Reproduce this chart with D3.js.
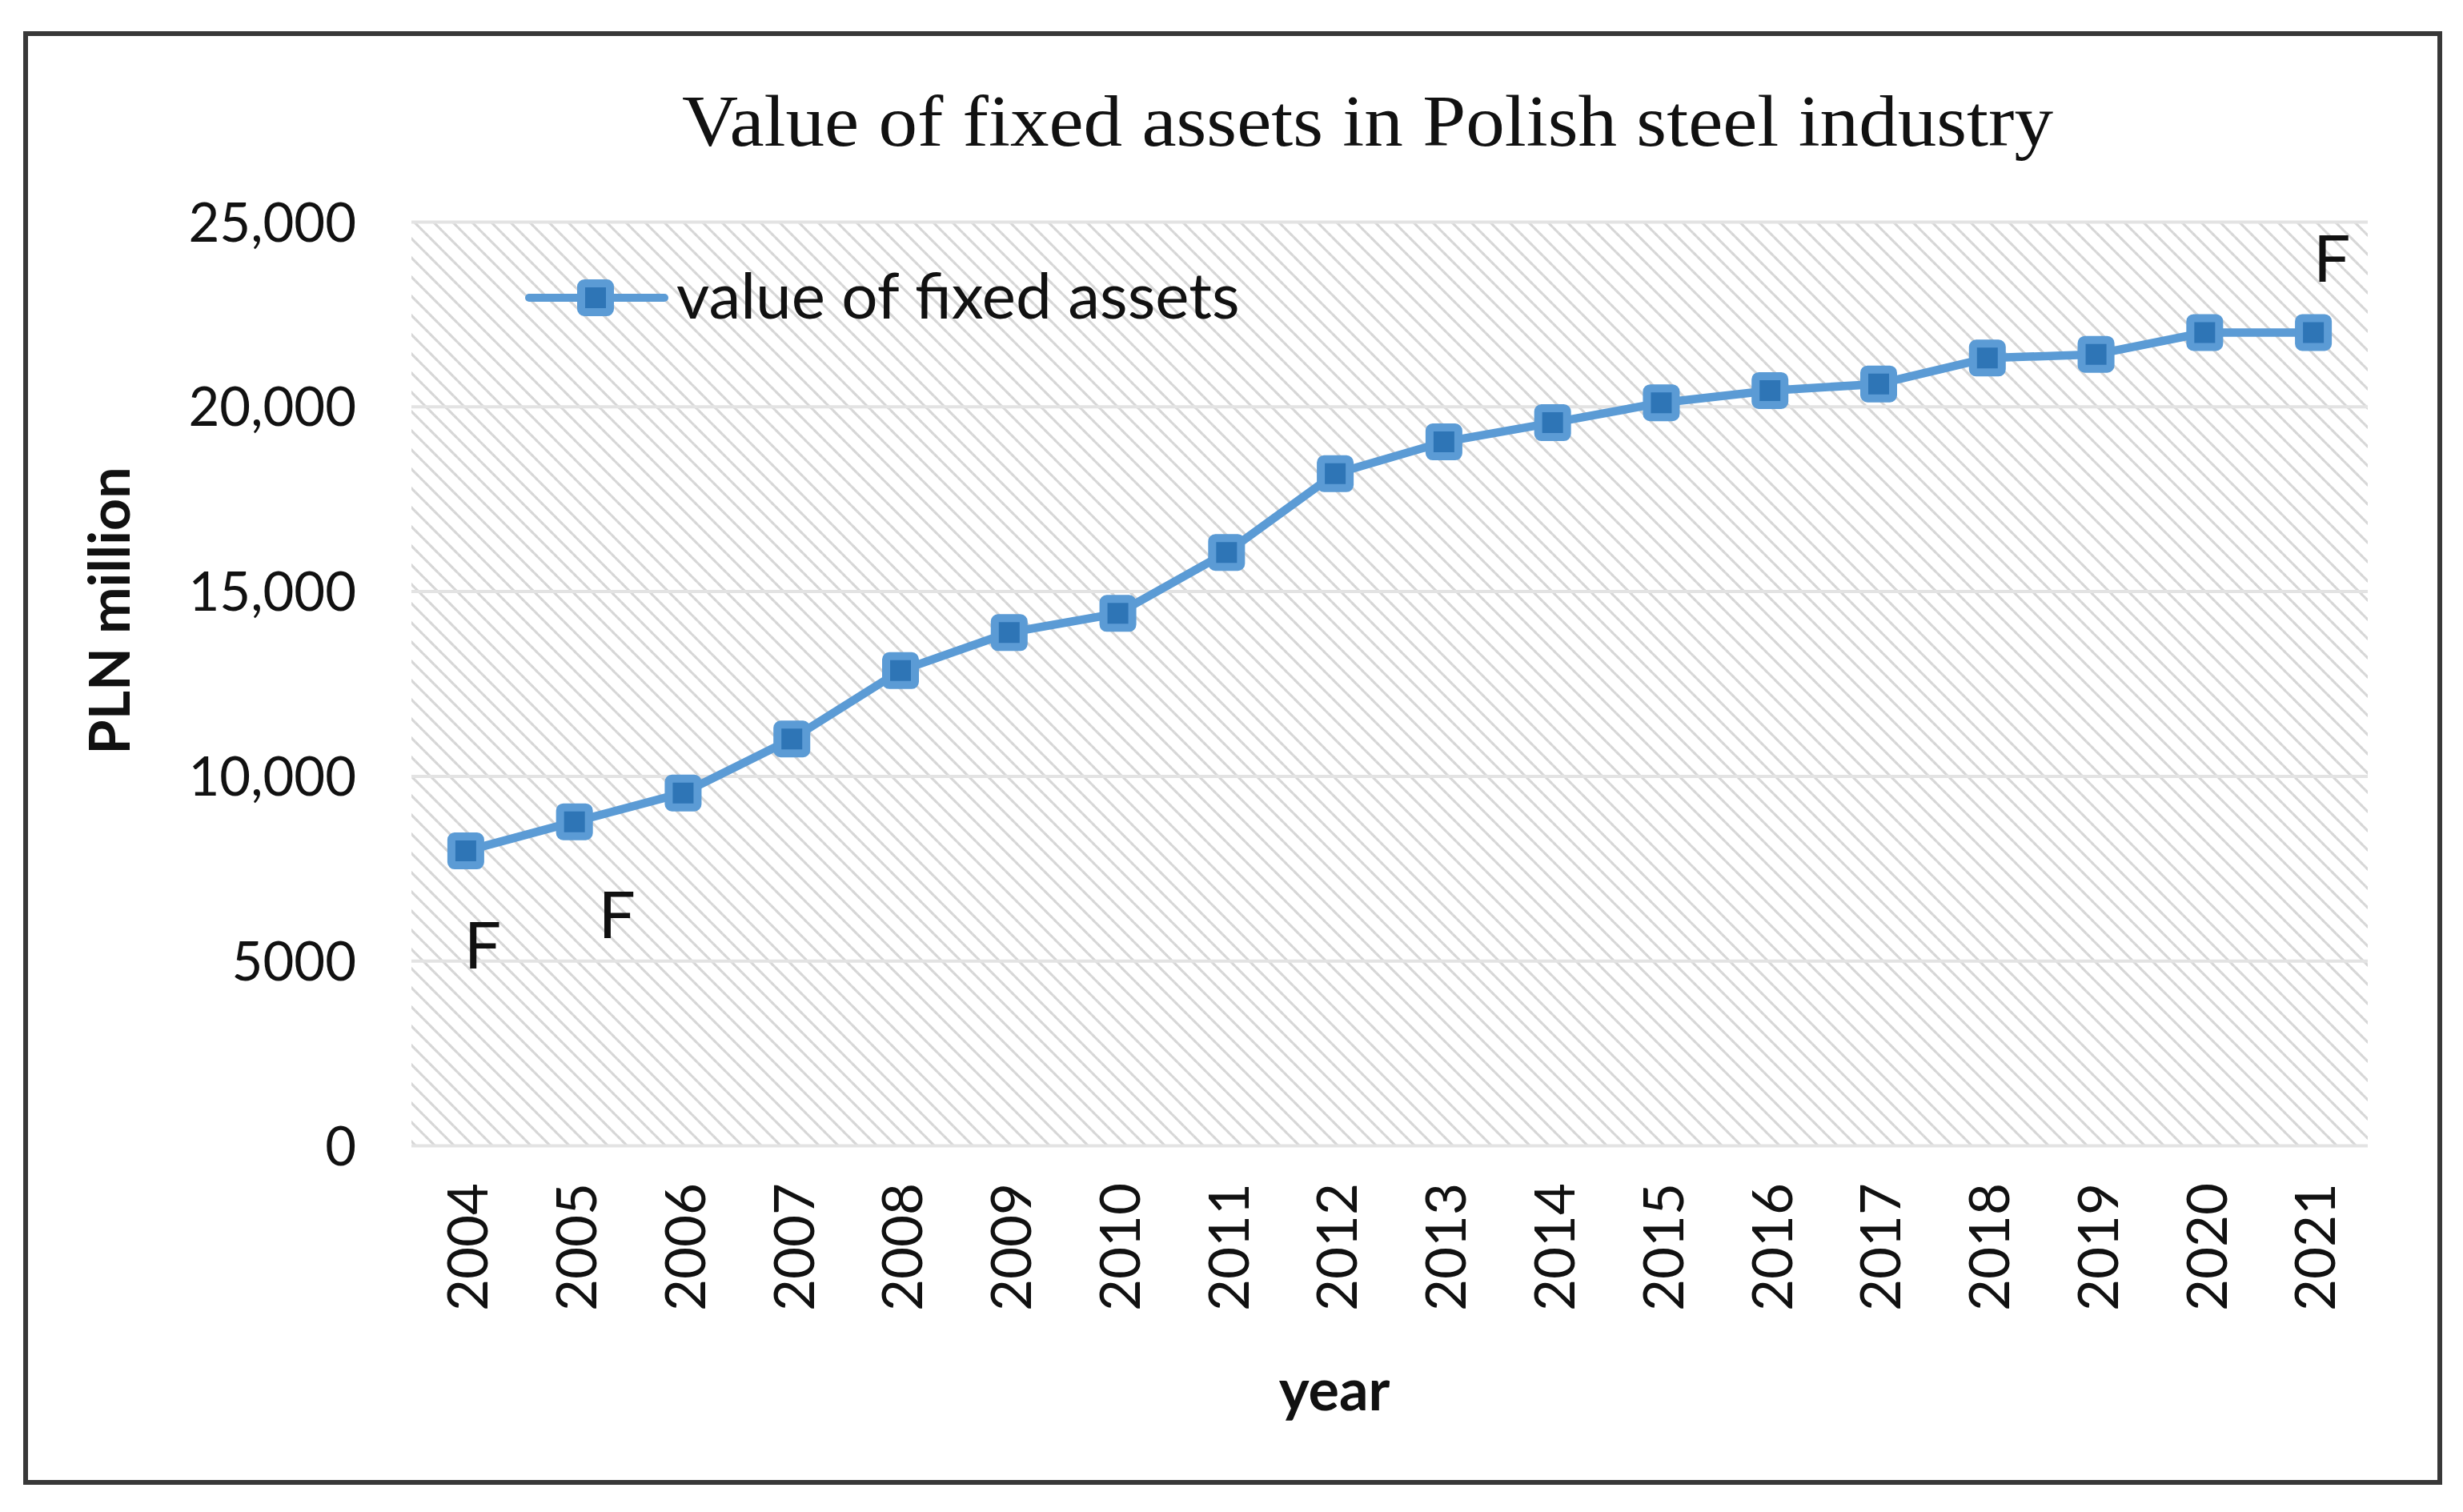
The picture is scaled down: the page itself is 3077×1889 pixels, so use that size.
<!DOCTYPE html>
<html>
<head>
<meta charset="utf-8">
<script src="https://cdn.jsdelivr.net/npm/d3@7"></script>
<style>
  html, body { margin: 0; padding: 0; background: #fff; }
  svg { display: block; }
</style>
</head>
<body>
<div id="chart"></div>
<script>
// data (PLN million)
const years = [2004, 2005, 2006, 2007, 2008, 2009, 2010, 2011, 2012,
               2013, 2014, 2015, 2016, 2017, 2018, 2019, 2020, 2021];
const fixedAssets = [7970, 8760, 9540, 11000, 12850, 13880, 14400, 16050, 18180,
                     19040, 19560, 20100, 20430, 20610, 21310, 21410, 22000, 22000];
const yTicks = [0, 5000, 10000, 15000, 20000, 25000];
const yTickLabels = ['0', '5000', '10,000', '15,000', '20,000', '25,000'];
const fLabelYears = [2004, 2005, 2021];
const seriesName = 'value of fixed assets';
const chartTitle = 'Value of fixed assets in Polish steel industry';

const W = 3077, H = 1889;
const plot = { left: 514, right: 2958, top: 277, bottom: 1431 };
const blue = '#5B9BD5', darkBlue = '#2E75B6';

const svg = d3.select('#chart').append('svg').attr('width', W).attr('height', H);

// hatch fill for the plot area
const defs = svg.append('defs');
const pat = defs.append('pattern').attr('id', 'hatch')
  .attr('patternUnits', 'userSpaceOnUse').attr('width', 24).attr('height', 24);
pat.append('rect').attr('width', 24).attr('height', 24).attr('fill', '#fff');
[[-12, -12, 12, 12], [0, 0, 24, 24], [12, 12, 36, 36], [-12, 12, 12, 36], [12, -12, 36, 12]].forEach(l => {
  pat.append('line').attr('x1', l[0]).attr('y1', l[1]).attr('x2', l[2]).attr('y2', l[3])
    .attr('stroke', '#d6d6d6').attr('stroke-width', 3).attr('stroke-dasharray', '4 3');
});

// outer frame
svg.append('rect').attr('x', 32).attr('y', 42).attr('width', 3016).attr('height', 1810)
  .attr('fill', '#fff').attr('stroke', '#383838').attr('stroke-width', 6);

const x = d3.scalePoint().domain(years).range([plot.left, plot.right]).padding(0.5);
const y = d3.scaleLinear().domain([0, 25000]).range([plot.bottom, plot.top]);

svg.append('rect').attr('x', plot.left).attr('y', plot.top)
  .attr('width', plot.right - plot.left).attr('height', plot.bottom - plot.top)
  .attr('fill', 'url(#hatch)');

// gridlines
const grid = svg.append('g').attr('transform', `translate(${plot.left},0)`)
  .call(d3.axisLeft(y).tickValues(yTicks).tickSize(-(plot.right - plot.left)).tickFormat(''));
grid.select('.domain').remove();
grid.selectAll('line').attr('stroke', '#e3e3e3').attr('stroke-width', 4);

// y axis labels
const yAxis = svg.append('g').attr('transform', `translate(445,0)`)
  .call(d3.axisLeft(y).tickValues(yTicks).tickSize(0).tickPadding(0)
    .tickFormat((d, i) => yTickLabels[i]));
yAxis.select('.domain').remove();
yAxis.selectAll('text')
  .attr('font-family', 'Lato, sans-serif').attr('font-size', 67).attr('fill', '#111')
  .attr('dy', '0.36em');

// x axis labels (rotated)
const xAxis = svg.append('g').attr('transform', `translate(0,${plot.bottom})`)
  .call(d3.axisBottom(x).tickSize(0).tickPadding(0));
xAxis.select('.domain').remove();
xAxis.selectAll('text')
  .attr('font-family', 'Lato, sans-serif').attr('font-size', 69).attr('fill', '#111')
  .attr('text-anchor', 'end').attr('y', 0).attr('dy', '0.36em')
  .attr('transform', 'translate(2,47) rotate(-90)');

// axis titles
svg.append('text').attr('x', 1667).attr('y', 1762).attr('text-anchor', 'middle')
  .attr('font-family', 'Lato, sans-serif').attr('font-weight', 'bold').attr('font-size', 72)
  .attr('fill', '#111').text('year');
svg.append('text').attr('transform', 'translate(162,763) rotate(-90)').attr('text-anchor', 'middle')
  .attr('font-family', 'Lato, sans-serif').attr('font-weight', 'bold').attr('font-size', 70)
  .attr('fill', '#111').text('PLN million');

// title
svg.append('text').attr('x', 852).attr('y', 182)
  .attr('font-family', '"Liberation Serif", "DejaVu Serif", serif').attr('font-size', 90)
  .attr('textLength', 1713).attr('lengthAdjust', 'spacingAndGlyphs')
  .attr('fill', '#111').text(chartTitle);

// series line
const data = years.map((yr, i) => ({ year: yr, value: fixedAssets[i] }));
svg.append('path').datum(data)
  .attr('fill', 'none').attr('stroke', blue).attr('stroke-width', 10.5).attr('stroke-linejoin', 'round')
  .attr('d', d3.line().x(d => x(d.year)).y(d => y(d.value)));

function marker(g, cx, cy) {
  g.append('rect').attr('x', cx - 18).attr('y', cy - 18).attr('width', 36).attr('height', 36)
    .attr('rx', 4).attr('fill', darkBlue).attr('stroke', blue).attr('stroke-width', 10);
}
const marks = svg.append('g');
data.forEach(d => marker(marks, x(d.year), y(d.value)));

// "F" labels
const fOffsets = { 2004: [21, 147], 2005: [53, 145], 2021: [23, -63] };
data.filter(d => fLabelYears.includes(d.year)).forEach(d => {
  const o = fOffsets[d.year];
  svg.append('text').attr('x', x(d.year) + o[0]).attr('y', y(d.value) + o[1])
    .attr('text-anchor', 'middle').attr('font-family', 'Lato, sans-serif').attr('font-size', 82)
    .attr('fill', '#111').text('F');
});

// legend
const lg = svg.append('g');
lg.append('line').attr('x1', 661).attr('x2', 830).attr('y1', 372).attr('y2', 372)
  .attr('stroke', blue).attr('stroke-width', 10).attr('stroke-linecap', 'round');
marker(lg, 744, 372);
lg.append('text').attr('x', 845).attr('y', 398)
  .attr('font-family', 'Lato, sans-serif').attr('font-size', 80).attr('fill', '#111')
  .text(seriesName);
</script>
</body>
</html>
